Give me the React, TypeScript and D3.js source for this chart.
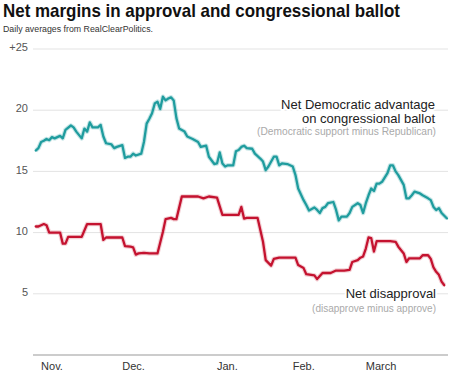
import React from "react";
import * as d3 from "d3";

// Day offsets from Oct. 29, 2017
const demDays = [1, 2, 3, 4, 5, 6, 7, 8, 10, 11, 12, 14, 15, 16, 18, 19, 20, 21, 22, 24, 25, 26, 27, 29, 30, 31, 33, 34, 35, 36, 37, 38, 40, 41, 42, 43, 44, 45, 46, 47, 48, 49, 50, 51, 52, 53, 54, 56, 57, 59, 61, 62, 64, 65, 67, 68, 69, 70, 71, 72, 74, 75, 76, 77, 78, 79, 81, 82, 84, 85, 86, 87, 89, 90, 91, 92, 94, 96, 97, 98, 100, 101, 102, 104, 105, 106, 107, 108, 109, 111, 112, 113, 114, 116, 117, 118, 120, 121, 122, 123, 124, 125, 126, 127, 128, 129, 131, 132, 133, 134, 135, 137, 138, 139, 140, 141, 143, 144, 146, 147, 148, 149, 150, 151, 153];
const demValues = [16.7, 16.9, 17.4, 17.5, 17.65, 17.55, 17.8, 17.7, 17.9, 17.7, 18.4, 18.75, 18.6, 18.25, 17.7, 18.5, 18.25, 19.0, 18.6, 18.6, 18.8, 17.85, 17.3, 17.2, 16.9, 17.0, 17.15, 16.1, 16.2, 16.2, 16.45, 16.3, 16.45, 17.4, 18.9, 19.3, 19.75, 20.55, 20.7, 20.1, 21.1, 20.8, 20.95, 21.05, 20.8, 19.35, 18.5, 18.25, 17.85, 17.65, 17.4, 17.0, 17.1, 16.2, 15.6, 15.65, 16.55, 15.65, 15.4, 15.5, 15.5, 16.65, 16.75, 17.0, 17.1, 16.9, 16.85, 16.45, 16.05, 15.8, 15.1, 15.4, 16.2, 16.2, 15.5, 15.65, 15.6, 15.4, 14.7, 13.6, 12.65, 12.25, 11.8, 12.05, 11.85, 11.6, 12.0, 12.1, 12.4, 12.5, 11.85, 11.0, 11.3, 11.3, 11.6, 12.1, 12.4, 12.25, 11.6, 12.4, 13.05, 13.6, 13.4, 14.0, 14.0, 14.15, 14.85, 15.5, 15.5, 15.0, 14.7, 13.9, 12.8, 12.8, 13.05, 13.35, 13.2, 13.05, 12.8, 12.65, 12.1, 11.85, 12.0, 11.6, 11.15];

const appDays = [1, 2, 4, 5, 6, 8, 10, 11, 12, 13, 15, 18, 20, 22, 25, 26, 27, 30, 33, 34, 36, 37, 38, 39, 41, 43, 46, 48, 49, 51, 52, 53, 55, 61, 63, 65, 68, 70, 76, 77, 78, 79, 83, 85, 86, 88, 89, 91, 97, 98, 100, 101, 104, 105, 107, 110, 112, 115, 117, 118, 120, 121, 122, 123, 124, 125, 126, 127, 132, 134, 135, 137, 138, 139, 143, 144, 146, 147, 148, 149, 150, 151, 152];
const appValues = [10.5, 10.5, 10.7, 10.6, 10.0, 10.0, 10.0, 9.1, 9.1, 9.65, 9.65, 9.65, 10.7, 10.7, 10.7, 9.4, 9.6, 9.6, 9.6, 8.9, 8.85, 8.8, 8.2, 8.3, 8.35, 8.3, 8.3, 10.05, 11.1, 11.2, 11.1, 11.1, 12.95, 12.95, 12.8, 12.95, 12.85, 11.45, 11.45, 12.1, 11.15, 11.2, 11.2, 9.25, 7.75, 7.3, 7.85, 7.95, 7.95, 7.35, 7.1, 6.6, 6.5, 6.2, 6.7, 6.7, 6.9, 6.9, 6.95, 7.6, 7.75, 7.95, 8.05, 8.7, 9.6, 9.55, 8.45, 9.3, 9.3, 9.25, 8.85, 8.3, 7.6, 7.9, 7.9, 8.15, 8.15, 7.85, 7.15, 6.8, 6.55, 6.0, 5.7];

const yTicks = [5, 10, 15, 20, 25];
const yTickLabels = ["5", "10", "15", "20", "+25"];
const xTickDates = ["2017-11-01", "2017-12-01", "2018-01-05", "2018-02-02", "2018-03-01"];
const xTickLabels = ["Nov.", "Dec.", "Jan.", "Feb.", "March"];

const startDate = new Date(2017, 9, 29);
const endDate = new Date(2018, 2, 31);

const W = 460;
const H = 375;
const FONT = "'Liberation Sans', Arial, sans-serif";

export default function App() {
  const x = d3.scaleTime().domain([startDate, endDate]).range([33, 447]);
  const y = d3.scaleLinear().domain([0, 25]).range([355, 49]);

  const demData = demDays.map((d, i) => ({ date: d3.timeDay.offset(startDate, d), v: demValues[i] }));
  const appData = appDays.map((d, i) => ({ date: d3.timeDay.offset(startDate, d), v: appValues[i] }));

  const line = d3
    .line<{ date: Date; v: number }>()
    .x((d) => x(d.date))
    .y((d) => y(d.v));

  const parse = d3.timeParse("%Y-%m-%d");

  const teal = "#1f9c9e";
  const red = "#c4122f";

  return (
    <svg
      width={W}
      height={H}
      style={{ position: "absolute", left: 0, top: 0, background: "#fff" }}
      fontFamily={FONT}
    >
      <text x={3} y={17} fontSize={18.5} fontWeight="bold" fill="#111" textLength={397} lengthAdjust="spacingAndGlyphs">
        Net margins in approval and congressional ballot
      </text>
      <text x={3} y={31.5} fontSize={8.3} fill="#333" textLength={150} lengthAdjust="spacingAndGlyphs">
        Daily averages from RealClearPolitics.
      </text>

      {yTicks.map((t, i) => (
        <g key={t}>
          <line x1={33} x2={448} y1={y(t)} y2={y(t)} stroke="#e3e3e3" strokeWidth={1} />
          <text x={28} y={y(t)} dy="0.2em" fontSize={11} fill="#555" textAnchor="end">
            {yTickLabels[i]}
          </text>
        </g>
      ))}

      <line x1={33} x2={448} y1={y(0)} y2={y(0)} stroke="#999" strokeWidth={1.2} />
      {xTickDates.map((d, i) => (
        <text key={d} x={x(parse(d) as Date)} y={370} fontSize={11} fill="#333">
          {xTickLabels[i]}
        </text>
      ))}

      <path d={line(demData) || ""} fill="none" stroke={teal} strokeOpacity={0.25} strokeWidth={4.5} strokeLinejoin="round" />
      <path d={line(demData) || ""} fill="none" stroke={teal} strokeWidth={2.3} strokeLinejoin="round" strokeLinecap="round" />
      <path d={line(appData) || ""} fill="none" stroke={red} strokeOpacity={0.2} strokeWidth={4.5} strokeLinejoin="round" />
      <path d={line(appData) || ""} fill="none" stroke={red} strokeWidth={2.3} strokeLinejoin="round" strokeLinecap="round" />

      <g textAnchor="end" stroke="#fff" strokeWidth={4} paintOrder="stroke" strokeLinejoin="round">
        <text x={435} y={109} fontSize={13} fill="#222">
          Net Democratic advantage
        </text>
        <text x={435} y={123} fontSize={13} fill="#222">
          on congressional ballot
        </text>
        <text x={436} y={135} fontSize={10.2} fill="#aaa">
          (Democratic support minus Republican)
        </text>
        <text x={436} y={298} fontSize={13} fill="#222">
          Net disapproval
        </text>
        <text x={436} y={312} fontSize={10} fill="#aaa">
          (disapprove minus approve)
        </text>
      </g>
    </svg>
  );
}
